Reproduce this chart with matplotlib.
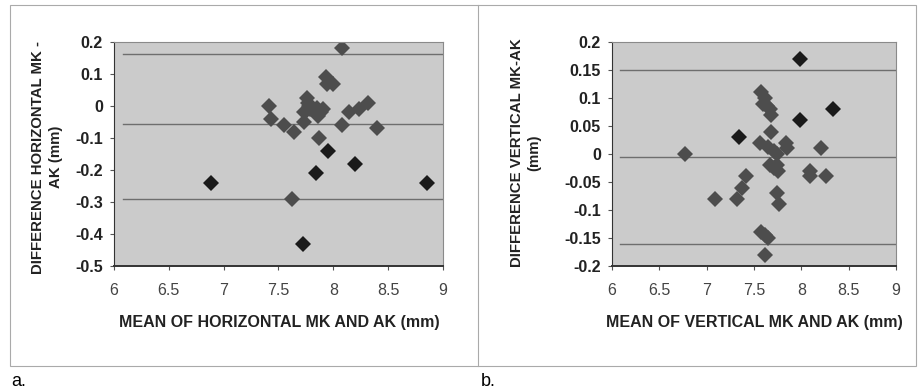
import matplotlib
matplotlib.use("Agg")
import matplotlib.pyplot as plt
from matplotlib.patches import Rectangle
from matplotlib.lines import Line2D

plt.rcParams['font.family'] = ['Liberation Sans', 'DejaVu Sans']

# Panel a: horizontal
h_mean = [8.08, 7.93, 7.94, 8.00, 7.41, 7.43, 7.55, 7.64, 7.73, 7.73,
          7.76, 7.77, 7.74, 7.79, 7.85, 7.86, 7.91, 7.87, 8.08, 8.14,
          8.23, 8.32, 8.40, 7.62, 7.78, 7.89]
h_diff = [0.18, 0.09, 0.07, 0.07, 0.00, -0.04, -0.06, -0.08, -0.05, -0.02,
          0.025, 0.01, -0.02, -0.01, -0.005, -0.03, -0.01, -0.10, -0.06, -0.02,
          -0.01, 0.01, -0.07, -0.29, 0.00, -0.02]
h_mean_dark = [7.95, 7.84, 8.20, 8.85, 6.88, 7.72]
h_diff_dark = [-0.14, -0.21, -0.18, -0.24, -0.24, -0.43]
h_lines = [0.163, -0.056, -0.291]

# Panel b: vertical
v_mean = [6.77, 7.57, 7.62, 7.60, 7.64, 7.67, 7.68, 7.68, 7.56, 7.65,
          7.71, 7.74, 7.84, 7.85, 8.21, 7.67, 7.74, 7.71, 7.75, 7.42,
          7.37, 7.32, 7.09, 7.74, 7.76, 8.09, 8.09, 8.26, 7.57, 7.62,
          7.65, 7.62]
v_diff = [0.00, 0.11, 0.10, 0.09, 0.085, 0.08, 0.07, 0.04, 0.02, 0.013,
          0.005, 0.00, 0.02, 0.01, 0.01, -0.02, -0.02, -0.025, -0.03, -0.04,
          -0.06, -0.08, -0.08, -0.07, -0.09, -0.03, -0.04, -0.04, -0.14, -0.145,
          -0.15, -0.18]
v_mean_dark = [7.99, 8.33, 7.99, 7.34]
v_diff_dark = [0.17, 0.08, 0.06, 0.03]
v_lines = [0.15, -0.006, -0.16]

W, H = 919, 391
fig = plt.figure(figsize=(W / 100, H / 100), dpi=100)

# outer frames
fig.add_artist(Rectangle((10 / W, 1 - 366 / H), 906 / W, 361 / H,
                         transform=fig.transFigure, fill=False,
                         edgecolor='#aaaaaa', linewidth=0.8))
fig.add_artist(Line2D([478 / W, 478 / W], [1 - 366 / H, 1 - 5 / H],
                      transform=fig.transFigure, color='#aaaaaa', linewidth=0.8))


def panel(rect, xs, ys, xd, yd, lines, yticks):
    ax = fig.add_axes(rect)
    ax.set_facecolor('#cbcbcb')
    for y in lines:
        ax.plot([6.08, 9], [y, y], color='#6e6e6e', linewidth=1.0, zorder=1)
    ax.plot(xs, ys, 'D', color='#4d4d4d', markersize=8.5, markeredgewidth=0, zorder=2)
    ax.plot(xd, yd, 'D', color='#1a1a1a', markersize=8.5, markeredgewidth=0, zorder=3)
    ax.set_xlim(6, 9)
    ax.set_ylim(yticks[0], yticks[-1])
    ax.set_xticks([6, 6.5, 7, 7.5, 8, 8.5, 9])
    ax.set_xticklabels(['6', '6.5', '7', '7.5', '8', '8.5', '9'],
                       fontsize=11.5, color='#444444')
    ax.set_yticks(yticks)
    ax.set_yticklabels([('%g' % t) for t in yticks], fontsize=11.5,
                       fontweight='bold', color='#222222')
    ax.tick_params(axis='both', length=3, width=0.8, color='#555555')
    ax.tick_params(axis='x', pad=9)
    ax.tick_params(axis='y', pad=5)
    for s in ['top', 'right']:
        ax.spines[s].set_color('#8a8a8a')
        ax.spines[s].set_linewidth(0.8)
    ax.spines['left'].set_color('#333333')
    ax.spines['bottom'].set_color('#333333')
    ax.spines['bottom'].set_linewidth(1.4)
    return ax


panel([114 / W, 1 - 266 / H, 329 / W, 224 / H],
      h_mean, h_diff, h_mean_dark, h_diff_dark, h_lines,
      [-0.5, -0.4, -0.3, -0.2, -0.1, 0, 0.1, 0.2])

panel([612 / W, 1 - 266 / H, 284 / W, 224 / H],
      v_mean, v_diff, v_mean_dark, v_diff_dark, v_lines,
      [-0.2, -0.15, -0.1, -0.05, 0, 0.05, 0.1, 0.15, 0.2])

lab = dict(fontweight='bold', color='#222222', ha='center', va='center')
fig.text(279 / W, 1 - 322 / H, 'MEAN OF HORIZONTAL MK AND AK (mm)',
         fontsize=11.5, **lab)
fig.text(754 / W, 1 - 322 / H, 'MEAN OF VERTICAL MK AND AK (mm)',
         fontsize=11.5, **lab)
fig.text(47 / W, 1 - 157 / H, 'DIFFERENCE HORIZONTAL MK -\nAK (mm)',
         fontsize=10.8, rotation=90, multialignment='center',
         linespacing=1.3, **lab)
fig.text(526 / W, 1 - 153 / H, 'DIFFERENCE VERTICAL MK-AK\n(mm)',
         fontsize=10.8, rotation=90, multialignment='center',
         linespacing=1.3, **lab)

fig.text(11 / W, 1 - 381 / H, 'a.', fontsize=13, va='center', ha='left')
fig.text(481 / W, 1 - 381 / H, 'b.', fontsize=13, va='center', ha='left')

fig.savefig('out.png', dpi=100)
